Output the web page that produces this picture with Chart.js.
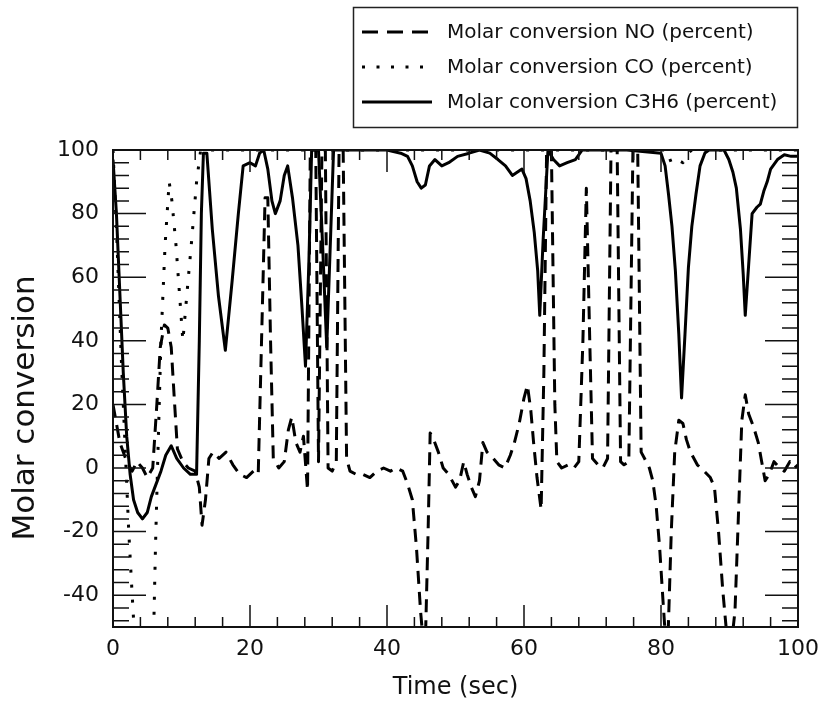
<!DOCTYPE html>
<html><head><meta charset="utf-8">
<script src="https://cdn.jsdelivr.net/npm/chart.js@4.4.1/dist/chart.umd.min.js"></script>
<style>html,body{margin:0;padding:0;background:#fff;}#wrap{width:828px;height:705px;}</style>
</head><body><div id="wrap"><canvas id="c" width="828" height="705"></canvas></div>
<script>
// ---- data ----
const seriesNames = ['Molar conversion NO (percent)', 'Molar conversion CO (percent)', 'Molar conversion C3H6 (percent)'];
const xTitleText = 'Time (sec)';
const yTitleText = 'Molar conversion';
const xTickValues = [0, 20, 40, 60, 80, 100];
const yTickValues = [-40, -20, 0, 20, 40, 60, 80, 100];

const noTime = [0,1,2,2.8,3.5,4.3,5,5.8,6.4,6.9,7.5,8,8.5,9,9.4,10.2,11,12,12.6,13,13.5,14,14.6,15.5,16.5,17.5,18.5,19.5,20.5,21.2,21.8,22.2,22.6,23,23.4,24.2,25,25.6,26.1,26.7,27.3,27.8,28.4,28.8,29.6,30,30.5,31,31.4,32,32.6,33,33.6,34.1,34.6,35.5,36.5,37.5,38.5,39.5,40.5,41.3,42.3,43,43.7,44.3,44.9,45.3,45.6,46,46.3,46.8,47.5,48.2,49,50,50.6,51.2,51.7,52.3,52.9,53.5,54,54.6,55.5,56.3,57.2,58,58.6,59.3,60,60.5,61,61.4,61.9,62.5,62.9,63.3,64,64.5,64.8,65.5,66.5,67.3,68,68.6,69.1,69.6,70,70.8,71.5,72.2,72.7,73.6,74.1,74.6,75.3,75.9,76.6,77.1,77.6,78.3,78.8,79.3,79.8,80.3,80.7,81,81.5,82,82.6,83.2,83.7,84.3,85.3,86.3,87.2,87.8,88.4,89,89.5,90.3,90.8,91.3,91.8,92.3,92.8,93.5,94.2,94.7,95.2,95.8,96.5,97.3,98,98.8,99.5,100];
const noValue = [20,8,2,-1,2,0,-3,0,20,38,45,44,38,20,6,2,0,-1,-6,-18,-10,3,5,3,5,1,-2,-3,-1,-2,50,85,85,40,3,0,2,12,16,8,5,10,-7,100,100,2,100,100,0,-1,2,100,100,3,-1,-2,-2,-3,-1,0,-1,0,-1,-5,-10,-25,-45,-55,-55,-20,11,9,5,0,-2,-6,-4,2,-2,-6,-9,-4,8,5,3,1,0,4,8,14,22,26,18,8,-3,-13,30,100,100,20,2,0,1,0,2,40,88,40,3,1,0,3,100,100,2,1,2,100,100,5,3,0,-4,-12,-25,-42,-55,-55,-20,5,15,14,9,5,1,-1,-3,-6,-20,-38,-50,-55,-45,-15,15,23,17,13,8,2,-4,-2,2,0,-1,2,0,1];

const coTime = [0,0.6,1.2,1.8,2.3,2.8,3.2,5.9,6.2,6.5,7,7.6,8.2,8.6,9.2,9.8,10.2,10.8,11.5,12.2,12.8,40,80.8,81.5,82.3,83.2,84,84.5,100];
const coValue = [100,70,35,5,-20,-40,-55,-55,-25,0,40,70,90,84,70,52,40,55,72,90,100,100,100,96,97,96,99,100,100];

const c3h6Time = [0,0.5,1,1.5,2,2.5,3,3.6,4.3,5,5.6,6.3,7,7.7,8.5,9.3,10.3,11.3,12.2,12.6,12.9,13.2,13.7,14.5,15.4,16.4,17.4,18.3,19,20,20.8,21.4,22,22.6,23.2,23.7,24.4,25,25.5,26.2,27,27.6,28.1,28.6,29,30,30.6,31.2,31.8,32.2,36,40,42,43,43.7,44.4,45,45.6,46.2,47,48,49,50.3,52,53.5,55,56.2,57.3,58.3,59,59.7,60.3,60.9,61.5,62,62.3,62.8,63.5,64.3,65.2,66.3,67.5,68.5,75,80,80.6,81.1,81.6,82.1,82.6,83,83.5,84,84.5,85.1,85.7,86.4,87,89.2,89.9,90.5,91,91.6,92,92.3,92.8,93.3,94,94.5,95,95.5,96,97,98,99,100];
const c3h6Value = [97,80,55,30,10,-2,-10,-14,-16,-14,-9,-5,-1,4,7,3,0,-2,-2,40,80,99,99,75,54,37,59,80,95,96,95,99,100,94,84,80,84,92,95,85,70,50,32,65,100,100,70,38,75,100,100,100,99,98,95,90,88,89,95,97,95,96,98,99,100,99,97,95,92,93,94,91,84,74,62,48,72,100,97,95,96,97,100,100,99,95,86,76,62,42,22,42,63,76,86,95,99,100,100,97,93,88,75,61,48,64,80,82,83,87,90,94,97,98.5,98,98];

function pairs(t, v) { return t.map((x, i) => ({x: x, y: v[i]})); }

const FONT = '"DejaVu Sans", sans-serif';
const TXT = '#111';

const framePlugin = {
  id: 'frame',
  afterDatasetsDraw(chart) {
    const {ctx, chartArea: a, scales: {x, y}} = chart;
    ctx.save();
    ctx.strokeStyle = '#111';
    ctx.lineWidth = 1.5;
    ctx.setLineDash([]);
    ctx.beginPath();
    for (let v = 0; v <= 100; v += 4) {
      const px = x.getPixelForValue(v);
      const len = v % 20 === 0 ? 22 : 10;
      ctx.moveTo(px, a.bottom); ctx.lineTo(px, a.bottom - len);
      ctx.moveTo(px, a.top); ctx.lineTo(px, a.top + len);
    }
    for (let v = -48; v <= 100; v += 4) {
      const py = y.getPixelForValue(v);
      const len = v % 20 === 0 ? 33 : 16;
      ctx.moveTo(a.left, py); ctx.lineTo(a.left + len, py);
      ctx.moveTo(a.right, py); ctx.lineTo(a.right - len, py);
    }
    ctx.stroke();
    ctx.lineWidth = 2;
    ctx.strokeRect(a.left, a.top, a.right - a.left, a.bottom - a.top);
    ctx.restore();
  }
};

const yTitlePlugin = {
  id: 'yTitle',
  afterDraw(chart) {
    const ctx = chart.ctx;
    ctx.save();
    ctx.translate(26, 408);
    ctx.rotate(-Math.PI / 2);
    ctx.font = '31px ' + FONT;
    ctx.fillStyle = TXT;
    ctx.textAlign = 'center';
    ctx.textBaseline = 'middle';
    ctx.fillText(yTitleText, 0, 0);
    ctx.restore();
  }
};

const boxLegend = {
  id: 'boxLegend',
  afterDraw(chart) {
    const ctx = chart.ctx;
    ctx.save();
    ctx.lineWidth = 1.5;
    ctx.strokeStyle = '#222';
    ctx.setLineDash([]);
    ctx.strokeRect(353.5, 7.5, 444, 120);
    chart.data.datasets.forEach((ds, i) => {
      const yy = 32 + i * 35;
      ctx.beginPath();
      ctx.setLineDash(ds.legendDash);
      ctx.lineWidth = ds.borderWidth;
      ctx.strokeStyle = ds.borderColor;
      ctx.lineCap = 'butt';
      ctx.moveTo(362, yy); ctx.lineTo(432, yy);
      ctx.stroke();
      ctx.setLineDash([]);
      ctx.fillStyle = TXT;
      ctx.font = '20px ' + FONT;
      ctx.textBaseline = 'middle';
      ctx.textAlign = 'left';
      ctx.fillText(ds.label, 447, yy + 1);
    });
    ctx.restore();
  }
};

const common = {showLine: true, pointRadius: 0, borderColor: '#000', borderWidth: 3, fill: false, tension: 0, borderCapStyle: 'butt', borderJoinStyle: 'round'};

new Chart(document.getElementById('c'), {
  type: 'scatter',
  data: {
    datasets: [
      Object.assign({label: seriesNames[0], data: pairs(noTime, noValue), borderDash: [13, 8], legendDash: [16, 9]}, common),
      Object.assign({label: seriesNames[1], data: pairs(coTime, coValue), borderDash: [3, 12], legendDash: [3, 11.5]}, common),
      Object.assign({label: seriesNames[2], data: pairs(c3h6Time, c3h6Value), borderDash: [], legendDash: []}, common)
    ]
  },
  options: {
    responsive: false,
    animation: false,
    devicePixelRatio: 1,
    layout: {padding: {left: 0, right: 28, top: 150, bottom: 0}},
    plugins: {legend: {display: false}, tooltip: {enabled: false}},
    scales: {
      x: {
        type: 'linear', min: 0, max: 100,
        grid: {display: false, drawTicks: false},
        border: {display: false},
        afterBuildTicks: (s) => { s.ticks = xTickValues.map(v => ({value: v})); },
        afterFit: (s) => { s.height = 78; },
        ticks: {color: TXT, font: {family: FONT, size: 22}, padding: 9, maxRotation: 0},
        title: {display: true, text: xTitleText, color: TXT, font: {family: FONT, size: 24}, padding: {top: 0, bottom: 3}}
      },
      y: {
        type: 'linear', min: -50, max: 100,
        grid: {display: false, drawTicks: false},
        border: {display: false},
        afterBuildTicks: (s) => { s.ticks = yTickValues.map(v => ({value: v})); },
        afterFit: (s) => { s.width = 113; },
        ticks: {color: TXT, font: {family: FONT, size: 22}, padding: 14},
        title: {display: false}
      }
    }
  },
  plugins: [framePlugin, yTitlePlugin, boxLegend]
});
</script>
</body></html>
